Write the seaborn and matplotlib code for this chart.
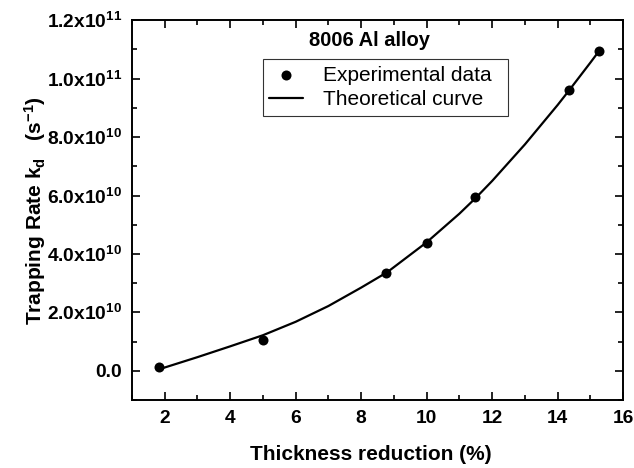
import matplotlib
matplotlib.use("Agg")
import matplotlib.pyplot as plt
import seaborn as sns
import pandas as pd
from matplotlib.ticker import MultipleLocator, FixedLocator

# Experimental data (thickness reduction %, trapping rate s^-1)
exp_x = [1.83, 5.0, 8.77, 10.0, 11.46, 14.35, 15.25]
exp_y = [0.14e10, 1.05e10, 3.36e10, 4.39e10, 5.94e10, 9.60e10, 10.94e10]

# Theoretical curve
curve_x = [1.9, 3, 4, 5, 6, 7, 8, 8.8, 10, 11, 11.5, 12, 13, 14, 14.35, 15, 15.3]
curve_y = [0.08e10, 0.47e10, 0.84e10, 1.22e10, 1.68e10, 2.22e10, 2.85e10, 3.38e10,
           4.40e10, 5.38e10, 5.92e10, 6.50e10, 7.75e10, 9.10e10, 9.60e10, 10.55e10, 11.0e10]

yticks = [0, 2e10, 4e10, 6e10, 8e10, 10e10, 12e10]
ytick_labels = ["0.0", "2.0x10$^{10}$", "4.0x10$^{10}$", "6.0x10$^{10}$",
                "8.0x10$^{10}$", "1.0x10$^{11}$", "1.2x10$^{11}$"]
xticks = [2, 4, 6, 8, 10, 12, 14, 16]

sns.set_style("ticks")
plt.rcParams["font.family"] = ["Liberation Sans", "DejaVu Sans"]
plt.rcParams["mathtext.fontset"] = "custom"
plt.rcParams["mathtext.rm"] = "Liberation Sans:bold"
plt.rcParams["mathtext.it"] = "Liberation Sans:bold"
plt.rcParams["mathtext.bf"] = "Liberation Sans:bold"
plt.rcParams["mathtext.default"] = "rm"
plt.rcParams["text.color"] = "black"
plt.rcParams["axes.labelcolor"] = "black"
plt.rcParams["xtick.color"] = "black"
plt.rcParams["ytick.color"] = "black"
plt.rcParams["axes.edgecolor"] = "black"

fig = plt.figure(figsize=(6.34, 4.68), dpi=100)
ax = fig.add_axes([0.208, 0.145, 0.775, 0.812])

df_exp = pd.DataFrame({"x": exp_x, "y": exp_y})
df_cur = pd.DataFrame({"x": curve_x, "y": curve_y})

sns.lineplot(data=df_cur, x="x", y="y", ax=ax, color="black", linewidth=1.6,
             label="Theoretical curve", sort=True, estimator=None)
sns.scatterplot(data=df_exp, x="x", y="y", ax=ax, color="black", s=52,
                edgecolor="black", linewidth=0, label="Experimental data", zorder=3)

ax.set_xlim(1, 16)
ax.set_ylim(-1e10, 1.2e11)
ax.xaxis.set_major_locator(FixedLocator(xticks))
ax.xaxis.set_minor_locator(MultipleLocator(1))
ax.yaxis.set_major_locator(FixedLocator(yticks))
ax.yaxis.set_minor_locator(MultipleLocator(1e10))
ax.set_yticklabels(ytick_labels)
ax.set_xticklabels([str(v) for v in xticks])

for lab in ax.get_xticklabels() + ax.get_yticklabels():
    lab.set_fontweight("bold")
    lab.set_fontsize(13.8)
    lab.set_color("black")

ax.tick_params(which="both", direction="in", top=True, right=True, width=1.2)
ax.tick_params(which="major", length=6, pad=7)
ax.tick_params(which="minor", length=3.5)
for sp in ax.spines.values():
    sp.set_visible(True)
    sp.set_linewidth(1.4)
    sp.set_color("black")

ax.set_xlabel("Thickness reduction (%)", fontsize=15, fontweight="bold", labelpad=13)
ax.xaxis.label.set_x(0.486)
ax.set_ylabel("Trapping Rate k$_d$   (s$^{-1}$)", fontsize=15, fontweight="bold", labelpad=-1)

ax.text(0.483, 0.947, "8006 Al alloy", transform=ax.transAxes, fontsize=14.5,
        fontweight="bold", ha="center", va="center")

h, l = ax.get_legend_handles_labels()
order = [l.index("Experimental data"), l.index("Theoretical curve")]
leg = ax.legend([h[i] for i in order], [l[i] for i in order],
                loc="upper left", bbox_to_anchor=(0.267, 0.897, 0.499, 0.0),
                mode="expand",
                fontsize=15, frameon=True, fancybox=False, edgecolor="black",
                handlelength=1.6, handletextpad=1.0, borderpad=0.3,
                labelspacing=0.28, borderaxespad=0)
leg.get_frame().set_linewidth(0.8)

fig.savefig("out.png", dpi=100)
